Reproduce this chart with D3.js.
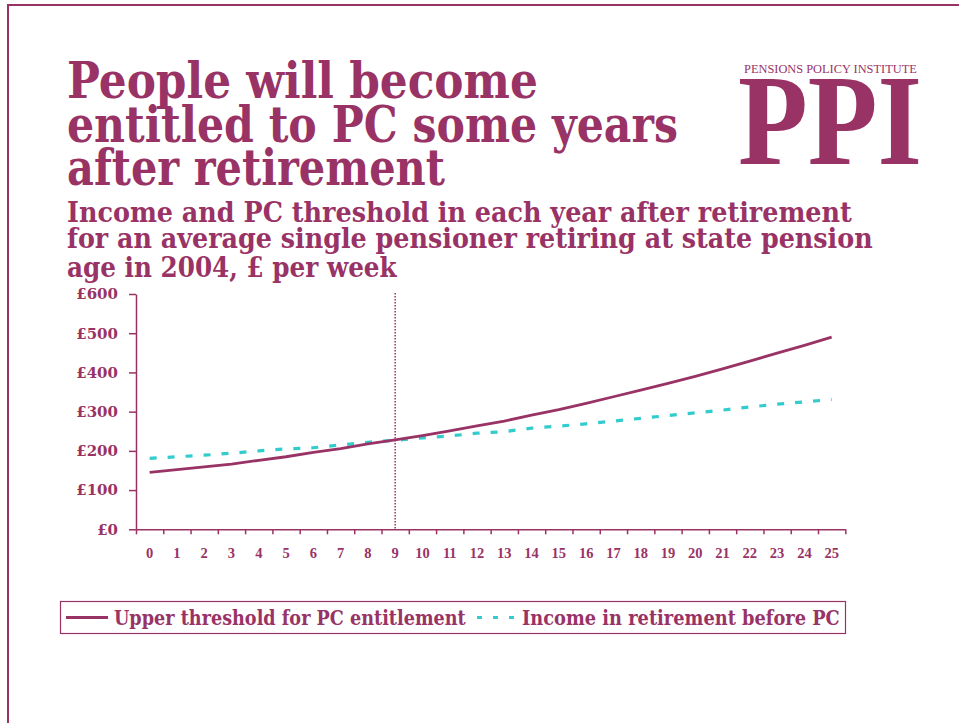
<!DOCTYPE html>
<html>
<head>
<meta charset="utf-8">
<script src="https://cdn.jsdelivr.net/npm/d3@7"></script>
<style>
  html, body { margin: 0; padding: 0; background: #ffffff; }
  svg { display: block; }
</style>
</head>
<body>
<script>
// Years after retirement (categories)
const years = ["0","1","2","3","4","5","6","7","8","9","10","11","12","13","14","15","16","17","18","19","20","21","22","23","24","25"];

// Upper threshold for Pension Credit entitlement, £ per week
const threshold = [145,152,159,166,176,185,196,206,218,228,239,251,264,276,291,305,321,338,355,372,390,409,429,449,469,490];

// Income in retirement before Pension Credit, £ per week
const income = [181,185,189,194,200,205,208,215,222,227,233,238,245,249,258,263,269,276,283,290,297,304,312,319,325,331];

// Value axis ticks
const yTicks = [0,100,200,300,400,500,600];

// Year at which income falls below the threshold
const crossYear = "9";

const titleLines = ["People will become", "entitled to PC some years", "after retirement"];
const subtitleLines = [
  "Income and PC threshold in each year after retirement",
  "for an average single pensioner retiring at state pension",
  "age in 2004, \u00a3 per week"
];
const seriesNames = ["Upper threshold for PC entitlement", "Income in retirement before PC"];

const PURPLE = "#993366";
const CYAN = "#33cccc";
const W = 959, H = 723;
const SERIF = "'DejaVu Serif', serif";
const TIMES = "'Liberation Serif', serif";

const svg = d3.select("body").append("svg")
  .attr("width", W).attr("height", H)
  .attr("viewBox", `0 0 ${W} ${H}`);

svg.append("rect").attr("width", W).attr("height", H).attr("fill", "#fff");

// page frame (top and left rules)
svg.append("path")
  .attr("d", `M8,${H} V5 H${W}`)
  .attr("fill", "none").attr("stroke", PURPLE).attr("stroke-width", 2);

// Draw a text line squeezed horizontally to a set width, anchored at its left edge
function fitText(parent, str, x0, yBase, width, family, size, weight) {
  const g = parent.append("g");
  const t = g.append("text")
    .attr("x", 0).attr("y", 0)
    .attr("font-family", family).attr("font-weight", weight || "bold")
    .attr("font-size", size).attr("fill", PURPLE)
    .text(str);
  const natural = t.node().getComputedTextLength();
  const sx = width / natural;
  g.attr("transform", `translate(${x0},${yBase}) scale(${sx},1)`);
  return g;
}

// Title
const titleBase = [98, 141.7, 185];
const titleW = [471, 611, 378];
titleLines.forEach((s, i) => fitText(svg, s, 67, titleBase[i], titleW[i], SERIF, 51));

// Subtitle
const subBase = [221.7, 248.4, 276.6];
const subW = [785, 806, 330];
subtitleLines.forEach((s, i) => fitText(svg, s, 67, subBase[i], subW[i], SERIF, 28.5));

// Logo
fitText(svg, "PENSIONS POLICY INSTITUTE", 744, 73, 173, TIMES, 11.5, "normal");
fitText(svg, "PPI", 738, 164.3, 184, TIMES, 130, "bold");

// Scales
const x = d3.scaleBand().domain(years).range([136, 845.3]).padding(0);
const xEdge = d3.scaleLinear().domain([0, years.length]).range([136, 845.3]);
const y = d3.scaleLinear().domain([0, 600]).range([529.3, 294]);
const cx = d => x(d) + x.bandwidth() / 2;

// Y axis
const yAxis = svg.append("g")
  .attr("transform", "translate(136,0)")
  .call(d3.axisLeft(y).tickValues(yTicks).tickSize(7).tickSizeOuter(0).tickPadding(11)
    .tickFormat(d => "\u00a3" + d));
yAxis.selectAll("path, line").attr("stroke", PURPLE).attr("stroke-width", 1.5);
yAxis.selectAll("text")
  .attr("font-family", SERIF).attr("font-weight", "bold")
  .attr("font-size", 15).attr("fill", PURPLE);

// X axis: labels centred in each year band, ticks on band edges
const xAxis = svg.append("g")
  .attr("transform", `translate(0,${y(0)})`)
  .call(d3.axisBottom(x).tickSize(0).tickPadding(18));
xAxis.select(".domain").remove();
xAxis.selectAll("text")
  .attr("font-family", TIMES).attr("font-weight", "bold")
  .attr("font-size", 14.5).attr("fill", PURPLE);

const xEdges = svg.append("g")
  .attr("transform", `translate(0,${y(0)})`)
  .call(d3.axisBottom(xEdge).tickValues(d3.range(years.length + 1)).tickSize(5).tickSizeOuter(0).tickFormat(""));
xEdges.selectAll("path, line").attr("stroke", PURPLE).attr("stroke-width", 1.5);

// Marker for the crossing year
svg.append("line")
  .attr("x1", cx(crossYear)).attr("x2", cx(crossYear))
  .attr("y1", y(600) - 1).attr("y2", y(0))
  .attr("stroke", PURPLE).attr("stroke-width", 1.5)
  .attr("stroke-dasharray", "1.5,1.5");

// Series
const line = d3.line().x((d, i) => cx(years[i])).y(d => y(d));

svg.append("path").datum(income)
  .attr("d", line).attr("fill", "none")
  .attr("stroke", CYAN).attr("stroke-width", 3.2)
  .attr("stroke-dasharray", "7,11");

svg.append("path").datum(threshold)
  .attr("d", line).attr("fill", "none")
  .attr("stroke", PURPLE).attr("stroke-width", 2.8)
  .attr("stroke-linejoin", "round");

// Legend
const lg = svg.append("g");
lg.append("rect")
  .attr("x", 60.5).attr("y", 601.5).attr("width", 785).attr("height", 32)
  .attr("fill", "none").attr("stroke", PURPLE).attr("stroke-width", 1.2);
lg.append("line")
  .attr("x1", 66).attr("x2", 108).attr("y1", 617.5).attr("y2", 617.5)
  .attr("stroke", PURPLE).attr("stroke-width", 2.8);
lg.append("line")
  .attr("x1", 477).attr("x2", 518).attr("y1", 617.5).attr("y2", 617.5)
  .attr("stroke", CYAN).attr("stroke-width", 3)
  .attr("stroke-dasharray", "5,11");
const legX = [114, 522], legW = [352, 318];
seriesNames.forEach((s, i) => fitText(lg, s, legX[i], 625, legW[i], SERIF, 20));
</script>
</body>
</html>
